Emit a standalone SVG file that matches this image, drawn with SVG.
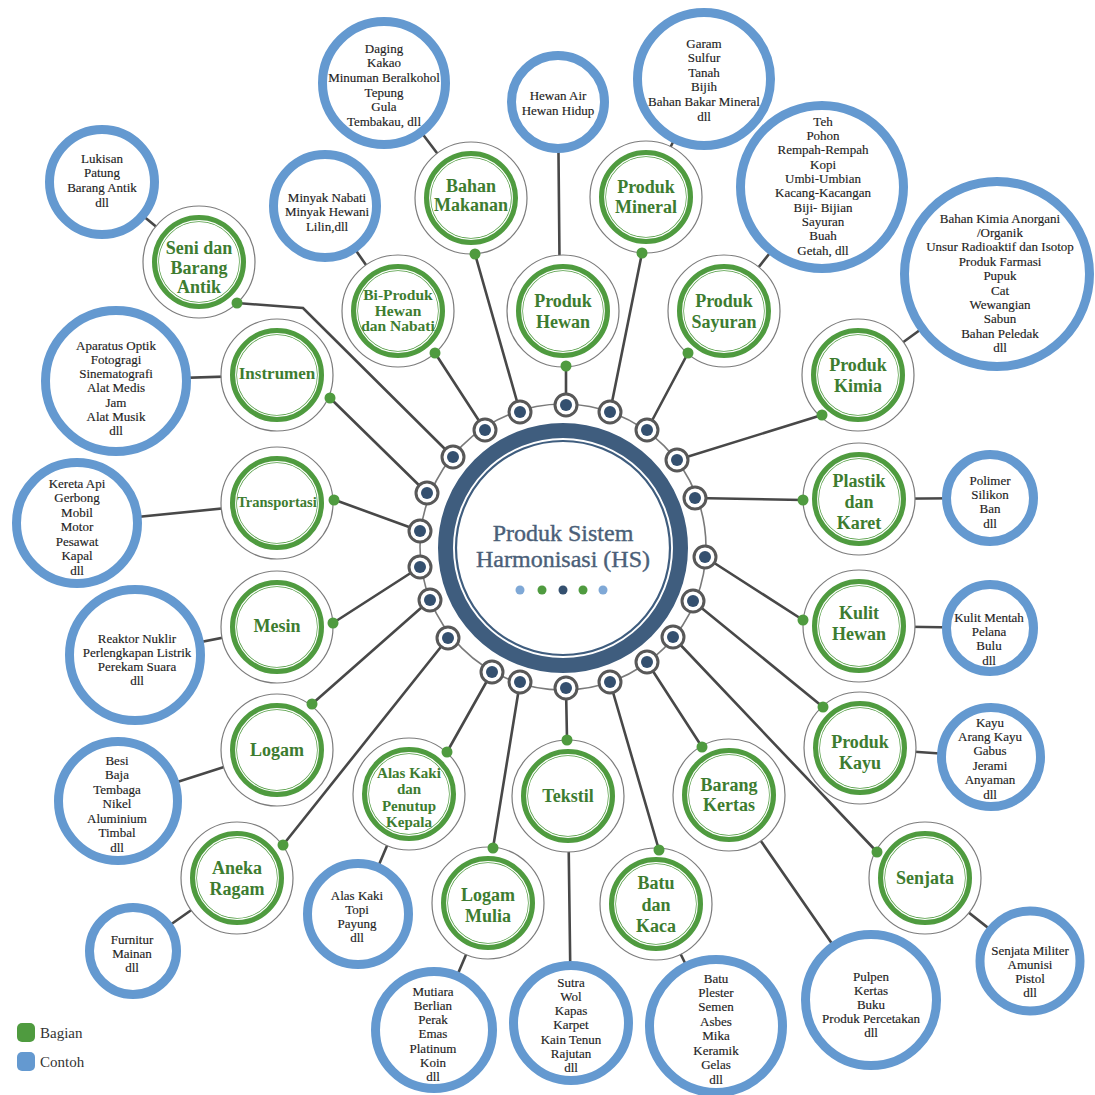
<svg xmlns="http://www.w3.org/2000/svg" width="1095" height="1095" viewBox="0 0 1095 1095">
<style>
.ln{stroke:#484848;stroke-width:2.6;fill:none;stroke-linecap:round}
.go{fill:#fff;stroke:#7c7c7c;stroke-width:1.2}
.gr{fill:none;stroke:#4f9b3f;stroke-width:7}
.gw{fill:none;stroke:#fff;stroke-width:1.2}
.gd{fill:#4f9b3f}
.gt{font-family:"Liberation Serif",serif;font-weight:bold;fill:#3d7c30;text-anchor:middle;font-size:18px}
.gs{font-size:15px}
.gx{font-size:15.5px}
.gi{font-size:17px}
.gp{font-size:14.5px}
.bc{fill:#fff;stroke:#6499d0;stroke-width:9}
.bt{font-family:"Liberation Serif",serif;font-size:13px;fill:#222;text-anchor:middle;stroke:#222;stroke-width:0.15}
.rn{fill:#fff;stroke:#585858;stroke-width:3}
.rd{fill:#34506f}
.lg{font-family:"Liberation Serif",serif;font-size:15px;fill:#333}
.ht{font-family:"Liberation Serif",serif;font-size:24px;fill:#4b5f78;text-anchor:middle;stroke:#4b5f78;stroke-width:0.4}
</style>
<rect width="1095" height="1095" fill="#fff"/>
<g id="connectors">
<line class="ln" x1="566" y1="405" x2="566" y2="366"/>
<line class="ln" x1="520" y1="412" x2="475" y2="254"/>
<line class="ln" x1="610" y1="412" x2="642" y2="253"/>
<line class="ln" x1="647" y1="430" x2="688" y2="353"/>
<line class="ln" x1="677" y1="460" x2="822" y2="415"/>
<line class="ln" x1="695" y1="498" x2="803" y2="500"/>
<line class="ln" x1="705" y1="557" x2="803" y2="620"/>
<line class="ln" x1="693" y1="601" x2="823" y2="707"/>
<line class="ln" x1="673" y1="637" x2="877" y2="852"/>
<line class="ln" x1="647" y1="662" x2="702" y2="747"/>
<line class="ln" x1="610" y1="682" x2="659" y2="850"/>
<line class="ln" x1="566" y1="688" x2="567" y2="739"/>
<line class="ln" x1="520" y1="682" x2="493" y2="848"/>
<line class="ln" x1="492" y1="672" x2="447" y2="752"/>
<line class="ln" x1="448" y1="638" x2="283" y2="845"/>
<line class="ln" x1="430" y1="600" x2="312" y2="704"/>
<line class="ln" x1="420" y1="567" x2="333" y2="623"/>
<line class="ln" x1="420" y1="531" x2="335" y2="500"/>
<line class="ln" x1="427" y1="493" x2="330" y2="398"/>
<polyline class="ln" points="237,303 303,308 453,457"/>
<line class="ln" x1="485" y1="430" x2="435" y2="353"/>
<line class="ln" x1="558" y1="102" x2="560" y2="311"/>
<line class="ln" x1="384" y1="83" x2="471" y2="198"/>
<line class="ln" x1="704" y1="79" x2="646" y2="197"/>
<line class="ln" x1="822" y1="187" x2="724" y2="311"/>
<line class="ln" x1="997" y1="274" x2="858" y2="375"/>
<line class="ln" x1="990" y1="498" x2="859" y2="499"/>
<line class="ln" x1="990" y1="628" x2="859" y2="626"/>
<line class="ln" x1="991" y1="757" x2="860" y2="748"/>
<line class="ln" x1="1030" y1="961" x2="925" y2="878"/>
<line class="ln" x1="871" y1="1000" x2="729" y2="795"/>
<line class="ln" x1="716" y1="1026" x2="656" y2="904"/>
<line class="ln" x1="571" y1="1023" x2="568" y2="796"/>
<line class="ln" x1="434" y1="1030" x2="488" y2="903"/>
<line class="ln" x1="358" y1="914" x2="409" y2="794"/>
<line class="ln" x1="133" y1="951" x2="237" y2="878"/>
<line class="ln" x1="118" y1="801" x2="277" y2="750"/>
<line class="ln" x1="135" y1="655" x2="277" y2="627"/>
<line class="ln" x1="77" y1="523" x2="277" y2="503"/>
<line class="ln" x1="116" y1="380" x2="277" y2="375"/>
<line class="ln" x1="102" y1="182" x2="199" y2="262"/>
<line class="ln" x1="325" y1="206" x2="398" y2="311"/>
</g>

<g id="hub">
<circle cx="563" cy="547" r="143" fill="none" stroke="#7a7a7a" stroke-width="1.6"/>
<circle cx="563" cy="548" r="117.5" fill="#fff" stroke="#3f5d7e" stroke-width="15"/>
<circle cx="563" cy="548" r="107" fill="none" stroke="#3f5d7e" stroke-width="2.2"/>
<text class="ht" x="563" y="541">Produk Sistem</text>
<text class="ht" x="563" y="567">Harmonisasi (HS)</text>
<circle cx="520" cy="590" r="4.5" fill="#7fa8d6"/>
<circle cx="542" cy="590" r="4.5" fill="#4f9b3f"/>
<circle cx="563" cy="590" r="4.5" fill="#34506f"/>
<circle cx="583" cy="590" r="4.5" fill="#4f9b3f"/>
<circle cx="603" cy="590" r="4.5" fill="#7fa8d6"/>
</g>

<g id="ring-nodes">
<g><circle class="rn" cx="566" cy="405" r="11"/><circle class="rd" cx="566" cy="405" r="6"/></g>
<g><circle class="rn" cx="610" cy="412" r="11"/><circle class="rd" cx="610" cy="412" r="6"/></g>
<g><circle class="rn" cx="647" cy="430" r="11"/><circle class="rd" cx="647" cy="430" r="6"/></g>
<g><circle class="rn" cx="677" cy="460" r="11"/><circle class="rd" cx="677" cy="460" r="6"/></g>
<g><circle class="rn" cx="695" cy="498" r="11"/><circle class="rd" cx="695" cy="498" r="6"/></g>
<g><circle class="rn" cx="705" cy="557" r="11"/><circle class="rd" cx="705" cy="557" r="6"/></g>
<g><circle class="rn" cx="693" cy="601" r="11"/><circle class="rd" cx="693" cy="601" r="6"/></g>
<g><circle class="rn" cx="673" cy="637" r="11"/><circle class="rd" cx="673" cy="637" r="6"/></g>
<g><circle class="rn" cx="647" cy="662" r="11"/><circle class="rd" cx="647" cy="662" r="6"/></g>
<g><circle class="rn" cx="610" cy="682" r="11"/><circle class="rd" cx="610" cy="682" r="6"/></g>
<g><circle class="rn" cx="566" cy="688" r="11"/><circle class="rd" cx="566" cy="688" r="6"/></g>
<g><circle class="rn" cx="520" cy="682" r="11"/><circle class="rd" cx="520" cy="682" r="6"/></g>
<g><circle class="rn" cx="492" cy="672" r="11"/><circle class="rd" cx="492" cy="672" r="6"/></g>
<g><circle class="rn" cx="448" cy="638" r="11"/><circle class="rd" cx="448" cy="638" r="6"/></g>
<g><circle class="rn" cx="430" cy="600" r="11"/><circle class="rd" cx="430" cy="600" r="6"/></g>
<g><circle class="rn" cx="420" cy="567" r="11"/><circle class="rd" cx="420" cy="567" r="6"/></g>
<g><circle class="rn" cx="420" cy="531" r="11"/><circle class="rd" cx="420" cy="531" r="6"/></g>
<g><circle class="rn" cx="427" cy="493" r="11"/><circle class="rd" cx="427" cy="493" r="6"/></g>
<g><circle class="rn" cx="453" cy="457" r="11"/><circle class="rd" cx="453" cy="457" r="6"/></g>
<g><circle class="rn" cx="485" cy="430" r="11"/><circle class="rd" cx="485" cy="430" r="6"/></g>
<g><circle class="rn" cx="520" cy="412" r="11"/><circle class="rd" cx="520" cy="412" r="6"/></g>
</g>

<g id="produk-hewan"><circle class="go" cx="563" cy="311" r="56"/><circle class="gr" cx="563" cy="311" r="43.5"/><circle class="gw" cx="563" cy="311" r="41.3"/><circle class="gd" cx="566" cy="366" r="5.5"/>
<text class="gt"><tspan x="563" y="307">Produk</tspan><tspan x="563" dy="21">Hewan</tspan></text></g>
<g id="bahan-makanan"><circle class="go" cx="471" cy="198" r="56"/><circle class="gr" cx="471" cy="198" r="43.5"/><circle class="gw" cx="471" cy="198" r="41.3"/><circle class="gd" cx="475" cy="254" r="5.5"/>
<text class="gt"><tspan x="471" y="192">Bahan</tspan><tspan x="471" dy="19">Makanan</tspan></text></g>
<g id="produk-mineral"><circle class="go" cx="646" cy="197" r="56"/><circle class="gr" cx="646" cy="197" r="43.5"/><circle class="gw" cx="646" cy="197" r="41.3"/><circle class="gd" cx="642" cy="253" r="5.5"/>
<text class="gt"><tspan x="646" y="193">Produk</tspan><tspan x="646" dy="20">Mineral</tspan></text></g>
<g id="produk-sayuran"><circle class="go" cx="724" cy="311" r="56"/><circle class="gr" cx="724" cy="311" r="43.5"/><circle class="gw" cx="724" cy="311" r="41.3"/><circle class="gd" cx="688" cy="353" r="5.5"/>
<text class="gt"><tspan x="724" y="307">Produk</tspan><tspan x="724" dy="21">Sayuran</tspan></text></g>
<g id="produk-kimia"><circle class="go" cx="858" cy="375" r="56"/><circle class="gr" cx="858" cy="375" r="43.5"/><circle class="gw" cx="858" cy="375" r="41.3"/><circle class="gd" cx="822" cy="415" r="5.5"/>
<text class="gt"><tspan x="858" y="371">Produk</tspan><tspan x="858" dy="21">Kimia</tspan></text></g>
<g id="plastik-karet"><circle class="go" cx="859" cy="499" r="56"/><circle class="gr" cx="859" cy="499" r="43.5"/><circle class="gw" cx="859" cy="499" r="41.3"/><circle class="gd" cx="803" cy="500" r="5.5"/>
<text class="gt"><tspan x="859" y="487">Plastik</tspan><tspan x="859" dy="21">dan</tspan><tspan x="859" dy="21">Karet</tspan></text></g>
<g id="kulit-hewan"><circle class="go" cx="859" cy="626" r="56"/><circle class="gr" cx="859" cy="626" r="43.5"/><circle class="gw" cx="859" cy="626" r="41.3"/><circle class="gd" cx="803" cy="620" r="5.5"/>
<text class="gt"><tspan x="859" y="619">Kulit</tspan><tspan x="859" dy="21">Hewan</tspan></text></g>
<g id="produk-kayu"><circle class="go" cx="860" cy="748" r="56"/><circle class="gr" cx="860" cy="748" r="43.5"/><circle class="gw" cx="860" cy="748" r="41.3"/><circle class="gd" cx="823" cy="707" r="5.5"/>
<text class="gt"><tspan x="860" y="748">Produk</tspan><tspan x="860" dy="21">Kayu</tspan></text></g>
<g id="senjata"><circle class="go" cx="925" cy="878" r="56"/><circle class="gr" cx="925" cy="878" r="43.5"/><circle class="gw" cx="925" cy="878" r="41.3"/><circle class="gd" cx="877" cy="852" r="5.5"/>
<text class="gt" x="925" y="884">Senjata</text></g>
<g id="barang-kertas"><circle class="go" cx="729" cy="795" r="56"/><circle class="gr" cx="729" cy="795" r="43.5"/><circle class="gw" cx="729" cy="795" r="41.3"/><circle class="gd" cx="702" cy="747" r="5.5"/>
<text class="gt"><tspan x="729" y="791">Barang</tspan><tspan x="729" dy="20">Kertas</tspan></text></g>
<g id="batu-kaca"><circle class="go" cx="656" cy="904" r="56"/><circle class="gr" cx="656" cy="904" r="43.5"/><circle class="gw" cx="656" cy="904" r="41.3"/><circle class="gd" cx="659" cy="850" r="5.5"/>
<text class="gt"><tspan x="656" y="889">Batu</tspan><tspan x="656" dy="21.5">dan</tspan><tspan x="656" dy="21.5">Kaca</tspan></text></g>
<g id="tekstil"><circle class="go" cx="568" cy="796" r="56"/><circle class="gr" cx="568" cy="796" r="43.5"/><circle class="gw" cx="568" cy="796" r="41.3"/><circle class="gd" cx="567" cy="740" r="5.5"/>
<text class="gt" x="568" y="802">Tekstil</text></g>
<g id="logam-mulia"><circle class="go" cx="488" cy="903" r="56"/><circle class="gr" cx="488" cy="903" r="43.5"/><circle class="gw" cx="488" cy="903" r="41.3"/><circle class="gd" cx="493" cy="848" r="5.5"/>
<text class="gt"><tspan x="488" y="901">Logam</tspan><tspan x="488" dy="21">Mulia</tspan></text></g>
<g id="alas-kaki"><circle class="go" cx="409" cy="794" r="56"/><circle class="gr" cx="409" cy="794" r="43.5"/><circle class="gw" cx="409" cy="794" r="41.3"/><circle class="gd" cx="447" cy="752" r="5.5"/>
<text class="gt gs"><tspan x="409" y="778">Alas Kaki</tspan><tspan x="409" dy="16.3">dan</tspan><tspan x="409" dy="16.3">Penutup</tspan><tspan x="409" dy="16.3">Kepala</tspan></text></g>
<g id="aneka-ragam"><circle class="go" cx="237" cy="878" r="56"/><circle class="gr" cx="237" cy="878" r="43.5"/><circle class="gw" cx="237" cy="878" r="41.3"/><circle class="gd" cx="283" cy="845" r="5.5"/>
<text class="gt"><tspan x="237" y="874">Aneka</tspan><tspan x="237" dy="21">Ragam</tspan></text></g>
<g id="logam"><circle class="go" cx="277" cy="750" r="56"/><circle class="gr" cx="277" cy="750" r="43.5"/><circle class="gw" cx="277" cy="750" r="41.3"/><circle class="gd" cx="312" cy="704" r="5.5"/>
<text class="gt" x="277" y="756">Logam</text></g>
<g id="mesin"><circle class="go" cx="277" cy="627" r="56"/><circle class="gr" cx="277" cy="627" r="43.5"/><circle class="gw" cx="277" cy="627" r="41.3"/><circle class="gd" cx="333" cy="623" r="5.5"/>
<text class="gt" x="277" y="632">Mesin</text></g>
<g id="transportasi"><circle class="go" cx="277" cy="503" r="56"/><circle class="gr" cx="277" cy="503" r="43.5"/><circle class="gw" cx="277" cy="503" r="41.3"/><circle class="gd" cx="334" cy="500" r="5.5"/>
<text class="gt gp" x="277" y="507">Transportasi</text></g>
<g id="instrumen"><circle class="go" cx="277" cy="375" r="56"/><circle class="gr" cx="277" cy="375" r="43.5"/><circle class="gw" cx="277" cy="375" r="41.3"/><circle class="gd" cx="330" cy="398" r="5.5"/>
<text class="gt gi" x="277" y="379">Instrumen</text></g>
<g id="seni-barang-antik"><circle class="go" cx="199" cy="262" r="56"/><circle class="gr" cx="199" cy="262" r="43.5"/><circle class="gw" cx="199" cy="262" r="41.3"/><circle class="gd" cx="237" cy="303" r="5.5"/>
<text class="gt"><tspan x="199" y="254">Seni dan</tspan><tspan x="199" dy="19.5">Barang</tspan><tspan x="199" dy="19.5">Antik</tspan></text></g>
<g id="bi-produk"><circle class="go" cx="398" cy="311" r="56"/><circle class="gr" cx="398" cy="311" r="43.5"/><circle class="gw" cx="398" cy="311" r="41.3"/><circle class="gd" cx="435" cy="353" r="5.5"/>
<text class="gt gx"><tspan x="398" y="300">Bi-Produk</tspan><tspan x="398" dy="15.5">Hewan</tspan><tspan x="398" dy="15.5">dan Nabati</tspan></text></g>

<g id="ex-hewan"><circle class="bc" cx="558" cy="102" r="46.5"/>
<text class="bt"><tspan x="558" y="99.5">Hewan Air</tspan><tspan x="558" dy="15">Hewan Hidup</tspan></text></g>
<g id="ex-bahan"><circle class="bc" cx="384" cy="83" r="61.5"/>
<text class="bt"><tspan x="384" y="52.5">Daging</tspan><tspan x="384" dy="14.7">Kakao</tspan><tspan x="384" dy="14.7">Minuman Beralkohol</tspan><tspan x="384" dy="14.7">Tepung</tspan><tspan x="384" dy="14.7">Gula</tspan><tspan x="384" dy="14.7">Tembakau, dll</tspan></text></g>
<g id="ex-mineral"><circle class="bc" cx="704" cy="79" r="66.5"/>
<text class="bt"><tspan x="704" y="47.5">Garam</tspan><tspan x="704" dy="14.6">Sulfur</tspan><tspan x="704" dy="14.6">Tanah</tspan><tspan x="704" dy="14.6">Bijih</tspan><tspan x="704" dy="14.6">Bahan Bakar Mineral</tspan><tspan x="704" dy="14.6">dll</tspan></text></g>
<g id="ex-sayuran"><circle class="bc" cx="822" cy="187" r="81.5"/>
<text class="bt"><tspan x="823" y="125.5">Teh</tspan><tspan x="823" dy="14.35">Pohon</tspan><tspan x="823" dy="14.35">Rempah-Rempah</tspan><tspan x="823" dy="14.35">Kopi</tspan><tspan x="823" dy="14.35">Umbi-Umbian</tspan><tspan x="823" dy="14.35">Kacang-Kacangan</tspan><tspan x="823" dy="14.35">Biji- Bijian</tspan><tspan x="823" dy="14.35">Sayuran</tspan><tspan x="823" dy="14.35">Buah</tspan><tspan x="823" dy="14.35">Getah, dll</tspan></text></g>
<g id="ex-kimia"><circle class="bc" cx="997" cy="274" r="92.5"/>
<text class="bt"><tspan x="1000" y="222.5">Bahan Kimia Anorgani</tspan><tspan x="1000" dy="14.4">/Organik</tspan><tspan x="1000" dy="14.4">Unsur Radioaktif dan Isotop</tspan><tspan x="1000" dy="14.4">Produk Farmasi</tspan><tspan x="1000" dy="14.4">Pupuk</tspan><tspan x="1000" dy="14.4">Cat</tspan><tspan x="1000" dy="14.4">Wewangian</tspan><tspan x="1000" dy="14.4">Sabun</tspan><tspan x="1000" dy="14.4">Bahan Peledak</tspan><tspan x="1000" dy="14.4">dll</tspan></text></g>
<g id="ex-plastik"><circle class="bc" cx="990" cy="498" r="43.5"/>
<text class="bt"><tspan x="990" y="484.5">Polimer</tspan><tspan x="990" dy="14.4">Silikon</tspan><tspan x="990" dy="14.4">Ban</tspan><tspan x="990" dy="14.4">dll</tspan></text></g>
<g id="ex-kulit"><circle class="bc" cx="990" cy="628" r="43.5"/>
<text class="bt"><tspan x="989" y="621.5">Kulit Mentah</tspan><tspan x="989" dy="14.4">Pelana</tspan><tspan x="989" dy="14.4">Bulu</tspan><tspan x="989" dy="14.4">dll</tspan></text></g>
<g id="ex-kayu"><circle class="bc" cx="991" cy="757" r="49.5"/>
<text class="bt"><tspan x="990" y="726.5">Kayu</tspan><tspan x="990" dy="14.4">Arang Kayu</tspan><tspan x="990" dy="14.4">Gabus</tspan><tspan x="990" dy="14.4">Jerami</tspan><tspan x="990" dy="14.4">Anyaman</tspan><tspan x="990" dy="14.4">dll</tspan></text></g>
<g id="ex-senjata"><circle class="bc" cx="1030" cy="961" r="50"/>
<text class="bt"><tspan x="1030" y="954.5">Senjata Militer</tspan><tspan x="1030" dy="14">Amunisi</tspan><tspan x="1030" dy="14">Pistol</tspan><tspan x="1030" dy="14">dll</tspan></text></g>
<g id="ex-kertas"><circle class="bc" cx="871" cy="1000" r="65.5"/>
<text class="bt"><tspan x="871" y="980.5">Pulpen</tspan><tspan x="871" dy="14.2">Kertas</tspan><tspan x="871" dy="14.2">Buku</tspan><tspan x="871" dy="14.2">Produk Percetakan</tspan><tspan x="871" dy="14.2">dll</tspan></text></g>
<g id="ex-batu"><circle class="bc" cx="716" cy="1026" r="66.5"/>
<text class="bt"><tspan x="716" y="982.5">Batu</tspan><tspan x="716" dy="14.45">Plester</tspan><tspan x="716" dy="14.45">Semen</tspan><tspan x="716" dy="14.45">Asbes</tspan><tspan x="716" dy="14.45">Mika</tspan><tspan x="716" dy="14.45">Keramik</tspan><tspan x="716" dy="14.45">Gelas</tspan><tspan x="716" dy="14.45">dll</tspan></text></g>
<g id="ex-tekstil"><circle class="bc" cx="571" cy="1023" r="57.5"/>
<text class="bt"><tspan x="571" y="986.5">Sutra</tspan><tspan x="571" dy="14.3">Wol</tspan><tspan x="571" dy="14.3">Kapas</tspan><tspan x="571" dy="14.3">Karpet</tspan><tspan x="571" dy="14.3">Kain Tenun</tspan><tspan x="571" dy="14.3">Rajutan</tspan><tspan x="571" dy="14.3">dll</tspan></text></g>
<g id="ex-logam-mulia"><circle class="bc" cx="434" cy="1030" r="58.5"/>
<text class="bt"><tspan x="433" y="995.5">Mutiara</tspan><tspan x="433" dy="14.3">Berlian</tspan><tspan x="433" dy="14.3">Perak</tspan><tspan x="433" dy="14.3">Emas</tspan><tspan x="433" dy="14.3">Platinum</tspan><tspan x="433" dy="14.3">Koin</tspan><tspan x="433" dy="14.3">dll</tspan></text></g>
<g id="ex-alas-kaki"><circle class="bc" cx="358" cy="914" r="50.5"/>
<text class="bt"><tspan x="357" y="899.5">Alas Kaki</tspan><tspan x="357" dy="14.3">Topi</tspan><tspan x="357" dy="14.3">Payung</tspan><tspan x="357" dy="14.3">dll</tspan></text></g>
<g id="ex-aneka"><circle class="bc" cx="133" cy="951" r="43.5"/>
<text class="bt"><tspan x="132" y="943.5">Furnitur</tspan><tspan x="132" dy="14">Mainan</tspan><tspan x="132" dy="14">dll</tspan></text></g>
<g id="ex-logam"><circle class="bc" cx="118" cy="801" r="59.5"/>
<text class="bt"><tspan x="117" y="764.5">Besi</tspan><tspan x="117" dy="14.5">Baja</tspan><tspan x="117" dy="14.5">Tembaga</tspan><tspan x="117" dy="14.5">Nikel</tspan><tspan x="117" dy="14.5">Aluminium</tspan><tspan x="117" dy="14.5">Timbal</tspan><tspan x="117" dy="14.5">dll</tspan></text></g>
<g id="ex-mesin"><circle class="bc" cx="135" cy="655" r="65.5"/>
<text class="bt"><tspan x="137" y="642.5">Reaktor Nuklir</tspan><tspan x="137" dy="14.2">Perlengkapan Listrik</tspan><tspan x="137" dy="14.2">Perekam Suara</tspan><tspan x="137" dy="14.2">dll</tspan></text></g>
<g id="ex-transportasi"><circle class="bc" cx="77" cy="523" r="60.5"/>
<text class="bt"><tspan x="77" y="487.5">Kereta Api</tspan><tspan x="77" dy="14.5">Gerbong</tspan><tspan x="77" dy="14.5">Mobil</tspan><tspan x="77" dy="14.5">Motor</tspan><tspan x="77" dy="14.5">Pesawat</tspan><tspan x="77" dy="14.5">Kapal</tspan><tspan x="77" dy="14.5">dll</tspan></text></g>
<g id="ex-instrumen"><circle class="bc" cx="116" cy="381" r="70.5"/>
<text class="bt"><tspan x="116" y="349.5">Aparatus Optik</tspan><tspan x="116" dy="14.3">Fotogragi</tspan><tspan x="116" dy="14.3">Sinematografi</tspan><tspan x="116" dy="14.3">Alat Medis</tspan><tspan x="116" dy="14.3">Jam</tspan><tspan x="116" dy="14.3">Alat Musik</tspan><tspan x="116" dy="14.3">dll</tspan></text></g>
<g id="ex-seni"><circle class="bc" cx="102" cy="182" r="52.5"/>
<text class="bt"><tspan x="102" y="162.5">Lukisan</tspan><tspan x="102" dy="14.7">Patung</tspan><tspan x="102" dy="14.7">Barang Antik</tspan><tspan x="102" dy="14.7">dll</tspan></text></g>
<g id="ex-bi-produk"><circle class="bc" cx="325" cy="206" r="51.5"/>
<text class="bt"><tspan x="327" y="201.5">Minyak Nabati</tspan><tspan x="327" dy="14.5">Minyak Hewani</tspan><tspan x="327" dy="14.5">Lilin,dll</tspan></text></g>

<g id="legend">
<rect x="17" y="1023" width="18" height="19" rx="5" fill="#4f9b3f"/>
<text class="lg" x="40" y="1038">Bagian</text>
<rect x="17" y="1052" width="18" height="19" rx="5" fill="#6499d0"/>
<text class="lg" x="40" y="1067">Contoh</text>
</g>
</svg>
